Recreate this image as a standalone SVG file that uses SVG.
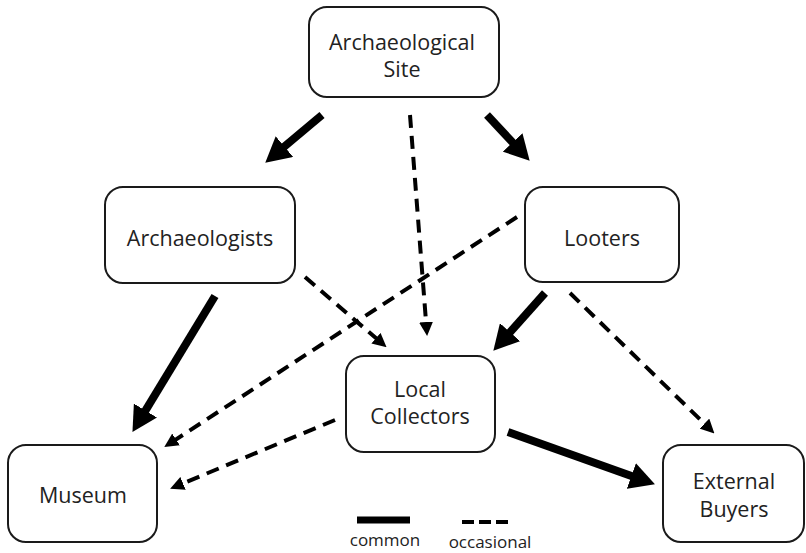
<svg xmlns="http://www.w3.org/2000/svg" width="806" height="553" viewBox="0 0 806 553">
<style>
.box{fill:#fff;stroke:#1a1a1a;stroke-width:2}
.t{font-family:"Open Sans","Liberation Sans",sans-serif;font-size:21.5px;fill:#222;text-anchor:middle}
.lg{font-family:"Open Sans","Liberation Sans",sans-serif;font-size:17px;fill:#222;text-anchor:middle}
.solid{stroke:#000;stroke-width:8;fill:none}
.dash{stroke:#000;stroke-width:4;fill:none;stroke-dasharray:13 8}
</style>
<defs>
<marker id="hs" markerUnits="userSpaceOnUse" markerWidth="25" markerHeight="27" refX="12" refY="13.5" orient="auto"><path d="M0,0 L25,13.5 L0,27 z" fill="#000"/></marker>
<marker id="hd" markerUnits="userSpaceOnUse" markerWidth="14" markerHeight="14" refX="6" refY="7" orient="auto"><path d="M0,0 L14,7 L0,14 z" fill="#000"/></marker>
</defs>
<rect width="806" height="553" fill="#fff"/>
<g id="connectors">
<path class="solid" d="M322,115 L275.2,154.3" marker-end="url(#hs)"/>
<path class="solid" d="M487,115 L520.8,151.2" marker-end="url(#hs)"/>
<path class="dash" d="M410,115 L426.5,328" marker-end="url(#hd)"/>
<path class="dash" d="M517,217 L171,442.7" marker-end="url(#hd)"/>
<path class="dash" d="M305,277 L380.5,342.1" marker-end="url(#hd)"/>
<path class="solid" d="M545,293 L502,341.1" marker-end="url(#hs)"/>
<path class="solid" d="M215,296 L139.2,420.8" marker-end="url(#hs)"/>
<path class="dash" d="M335,420 L177.5,485.7" marker-end="url(#hd)"/>
<path class="solid" d="M508,432 L642.7,480" marker-end="url(#hs)"/>
<path class="dash" d="M570,293 L708.7,427.8" marker-end="url(#hd)"/>
</g>
<g id="site"><rect class="box" x="309" y="7" width="190" height="90" rx="18"/><text class="t" x="402" y="50">Archaeological</text><text class="t" x="402" y="77">Site</text></g>
<g id="archaeologists"><rect class="box" x="105" y="187" width="190" height="96" rx="18"/><text class="t" x="200" y="246">Archaeologists</text></g>
<g id="looters"><rect class="box" x="525" y="187" width="154" height="95" rx="18"/><text class="t" x="602" y="246">Looters</text></g>
<g id="collectors"><rect class="box" x="346" y="356" width="149" height="96" rx="18"/><text class="t" x="420" y="397">Local</text><text class="t" x="420" y="424">Collectors</text></g>
<g id="museum"><rect class="box" x="8" y="445" width="149" height="97" rx="18"/><text class="t" x="83" y="503">Museum</text></g>
<g id="buyers"><rect class="box" x="663" y="445" width="141" height="97" rx="18"/><text class="t" x="734" y="489">External</text><text class="t" x="734" y="517">Buyers</text></g>
<g id="legend">
<line x1="357" y1="520" x2="410" y2="520" stroke="#000" stroke-width="7"/>
<line x1="462" y1="522" x2="513" y2="522" stroke="#000" stroke-width="4" stroke-dasharray="12 5"/>
<text class="lg" x="385" y="546">common</text>
<text class="lg" x="490" y="548">occasional</text>
</g>
</svg>
